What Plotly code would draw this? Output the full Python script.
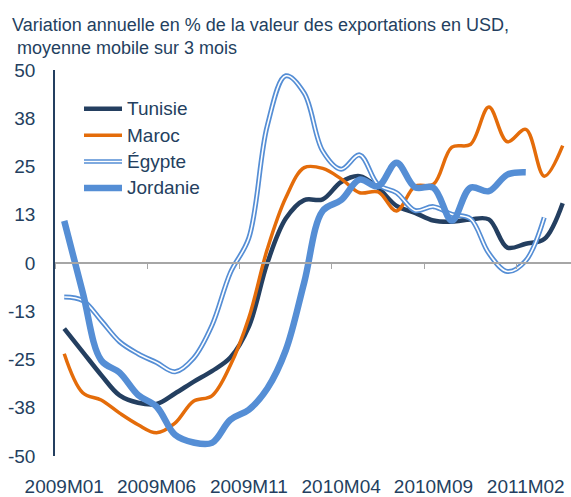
import plotly.graph_objects as go

months = ["2009M01","2009M02","2009M03","2009M04","2009M05","2009M06","2009M07",
          "2009M08","2009M09","2009M10","2009M11","2009M12","2010M01","2010M02",
          "2010M03","2010M04","2010M05","2010M06","2010M07","2010M08","2010M09",
          "2010M10","2010M11","2010M12","2011M01","2011M02","2011M03","2011M04"]

tunisie = [-17, -23, -29, -34.3, -36.2, -36.5, -33.8, -30.8, -28, -24.5, -16.5, 0, 11.5,
           16.3, 16.5, 21, 22.5, 19.5, 14.8, 13, 11, 10.7, 11.3, 11.3, 4, 5, 6.2, 15.5]
maroc = [-23.5, -33.6, -35.5, -38.9, -41.9, -44, -41.5, -35.8, -34.4, -26.5, -14.2, 3.6, 16.9,
         24.7, 24.5, 21.8, 18.2, 18.4, 13.5, 19.9, 20.4, 30, 30.7, 40.4, 31.4, 34.6, 22.5, 30.4]
egypte = [-8.8, -9.7, -14.9, -20.4, -23.5, -25.8, -28.2, -24.7, -16.2, -2.5, 6.5, 35.6, 48.5,
          44, 29, 24.3, 28, 20.3, 18.2, 13.6, 14.6, 12.6, 11.5, 2.5, -2.2, 0.6, 11.8, None]
jordanie = [10.9, -7.6, -25.2, -28.4, -34.2, -37.2, -44.5, -46.5, -46.6, -40.6, -38, -32.5, -22.6,
            -5, 13.5, 16.3, 21.6, 19.9, 26, 19.6, 19.5, 11, 19.5, 18.6, 22.9, 23.5, None, None]

label_months = ["2009M01", "2009M06", "2009M11", "2010M04", "2010M09", "2011M02"]
y_tickvals = [-50, -37.5, -25, -12.5, 0, 12.5, 25, 37.5, 50]
y_ticktext = ["-50", "-38", "-25", "-13", "0", "13", "25", "38", "50"]

NAVY = "#243F60"
ORANGE = "#E46C0A"
BLUE = "#558ED5"
TEXT = "#243F60"
FONT = "Liberation Sans, Arial, sans-serif"

W, H = 571, 497
L, R, T, B = 55, 0, 70, 39
PW, PH = W - L - R, H - T - B

idx = list(range(len(months)))

fig = go.Figure()
line_kw = dict(shape="spline", smoothing=1)
fig.add_trace(go.Scatter(x=idx, y=tunisie, mode="lines", name="Tunisie",
                         line=dict(color=NAVY, width=4.5, **line_kw)))
fig.add_trace(go.Scatter(x=idx, y=maroc, mode="lines", name="Maroc",
                         line=dict(color=ORANGE, width=3.5, **line_kw)))
fig.add_trace(go.Scatter(x=idx, y=egypte, mode="lines", name="Égypte",
                         line=dict(color=BLUE, width=5, **line_kw)))
fig.add_trace(go.Scatter(x=idx, y=egypte, mode="lines", name="Égypte", showlegend=False,
                         line=dict(color="white", width=1.6, **line_kw)))
fig.add_trace(go.Scatter(x=idx, y=jordanie, mode="lines", name="Jordanie",
                         line=dict(color=BLUE, width=6.5, **line_kw)))

xr = [-0.5, len(months) - 0.5 - 0.05]
label_pos = [months.index(m) for m in label_months]
boundaries = [p - 0.5 for p in label_pos]

fig.update_layout(
    width=W, height=H,
    margin=dict(l=L, r=R, t=T, b=B, pad=0),
    paper_bgcolor="white", plot_bgcolor="white",
    showlegend=False,
    font=dict(family=FONT, color=TEXT, size=19),
    title=dict(text="Variation annuelle en % de la valeur des exportations en USD,<br> moyenne mobile sur 3 mois",
               xref="container", yref="container", x=12 / W, xanchor="left",
               y=1 - 31 / H, yanchor="top",
               font=dict(family=FONT, size=18, color=TEXT)),
    xaxis=dict(range=xr, showgrid=False, zeroline=False, showline=False,
               tickmode="array", tickvals=label_pos, ticktext=label_months,
               ticks="outside", ticklen=13, tickcolor="rgba(0,0,0,0)",
               tickfont=dict(size=19, color=TEXT)),
    xaxis2=dict(range=xr, overlaying="x", anchor="free", position=0.5,
                showgrid=False, zeroline=False, showline=True, linecolor="#A6A6A6", linewidth=1.5,
                tickmode="array", tickvals=boundaries, showticklabels=False,
                ticks="outside", ticklen=5, tickcolor="#A6A6A6", tickwidth=1.2),
    yaxis=dict(range=[-50, 50], showgrid=False, zeroline=False,
               showline=True, linecolor=NAVY, linewidth=1.5,
               tickmode="array", tickvals=y_tickvals, ticktext=y_ticktext,
               ticks="outside", ticklen=14, tickcolor="rgba(0,0,0,0)",
               tickfont=dict(size=19, color=TEXT)),
)
# dummy trace to activate xaxis2
fig.add_trace(go.Scatter(x=[None], y=[None], xaxis="x2", showlegend=False, hoverinfo="skip"))

# custom legend
def px2x(px):
    return (px - L) / PW

def py2y(py):
    return (H - B - py) / PH

legend_items = [("Tunisie", NAVY, 4.5, False), ("Maroc", ORANGE, 3.5, False),
                ("Égypte", BLUE, 4.5, True), ("Jordanie", BLUE, 6.5, False)]
legend_y0, legend_dy = 109, 26.5
shapes = []
annotations = []
for k, (name, col, w, dbl) in enumerate(legend_items):
    yy = py2y(legend_y0 + k * legend_dy)
    shapes.append(dict(type="line", xref="paper", yref="paper", x0=px2x(84), x1=px2x(122),
                       y0=yy, y1=yy, line=dict(color=col, width=w)))
    if dbl:
        shapes.append(dict(type="line", xref="paper", yref="paper", x0=px2x(84), x1=px2x(122),
                           y0=yy, y1=yy, line=dict(color="white", width=1.4)))
    annotations.append(dict(text=name, xref="paper", yref="paper", x=px2x(125), y=yy,
                            xanchor="left", yanchor="middle", showarrow=False,
                            font=dict(family=FONT, size=19, color=TEXT)))
fig.update_layout(shapes=shapes, annotations=annotations)

fig.write_html("out.html", config={"displayModeBar": False},
               post_script="document.body.style.margin='0';document.body.style.overflow='hidden';")
